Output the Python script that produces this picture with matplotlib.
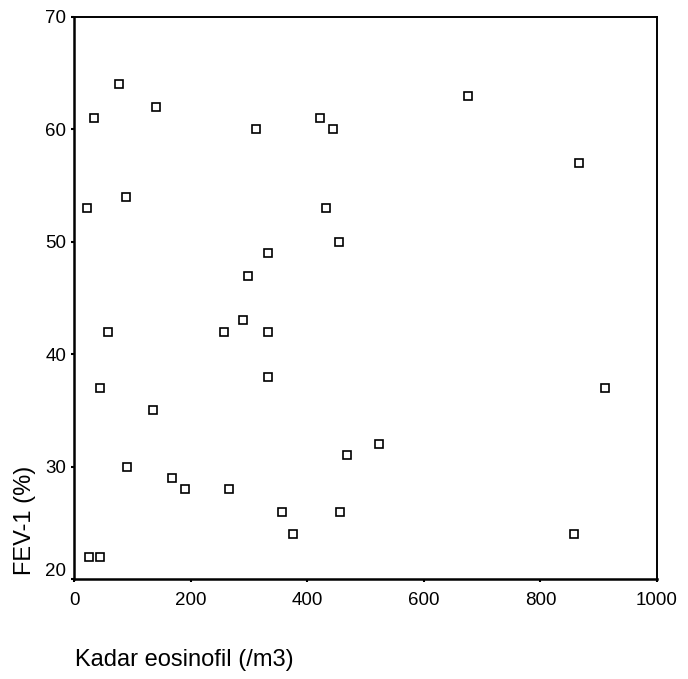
import matplotlib.pyplot as plt
from matplotlib.transforms import ScaledTranslation

plt.rcParams['font.family'] = ['Liberation Sans', 'DejaVu Sans']

# kadar eosinofil vs FEV-1
eosinofil = [77, 34, 140, 312, 422, 445, 23, 90, 432, 455, 332, 299, 290,
             58, 257, 332, 676, 866, 44, 135, 332, 91, 168, 191, 266, 357,
             456, 376, 468, 25, 44, 523, 910, 858]
fev1 = [64, 61, 62, 60, 61, 60, 53, 54, 53, 50, 49, 47, 43,
        42, 42, 42, 63, 57, 37, 35, 38, 30, 29, 28, 28, 26,
        26, 24, 31, 22, 22, 32, 37, 24]

fig = plt.figure(figsize=(6.88, 6.79), dpi=100)
ax = fig.add_axes([74 / 688, 1 - 579 / 679, (657 - 74) / 688, (579 - 17) / 679])

ax.plot(eosinofil, fev1, linestyle='none', marker='s', markersize=5.4,
        markerfacecolor='white', markeredgecolor='black', markeredgewidth=1.2)

ax.set_xlim(0, 1000)
ax.set_ylim(20, 70)
ax.set_xticks([0, 200, 400, 600, 800, 1000])
ax.set_yticks([20, 30, 40, 50, 60, 70])
ax.tick_params(direction='out', length=2.5, width=1.5, labelsize=13.5,
               pad=3, colors='black')
ax.tick_params(axis='x', pad=7)
for side in ['left', 'bottom']:
    ax.spines[side].set_linewidth(1.8)
for side in ['top', 'right']:
    ax.spines[side].set_linewidth(1.4)

# the bottom "20" label sits a little above the axis in the original
lbl = ax.get_yticklabels()[0]
lbl.set_transform(lbl.get_transform() + ScaledTranslation(0, 0.1, fig.dpi_scale_trans))

fig.text(75 / 688, 1 - 660 / 679, 'Kadar eosinofil (/m3)', fontsize=17,
         ha='left', va='center')
fig.text(25 / 688, 1 - 520 / 679, 'FEV-1 (%)', fontsize=17, rotation=90,
         ha='center', va='center')

fig.savefig('out.png', dpi=100)
